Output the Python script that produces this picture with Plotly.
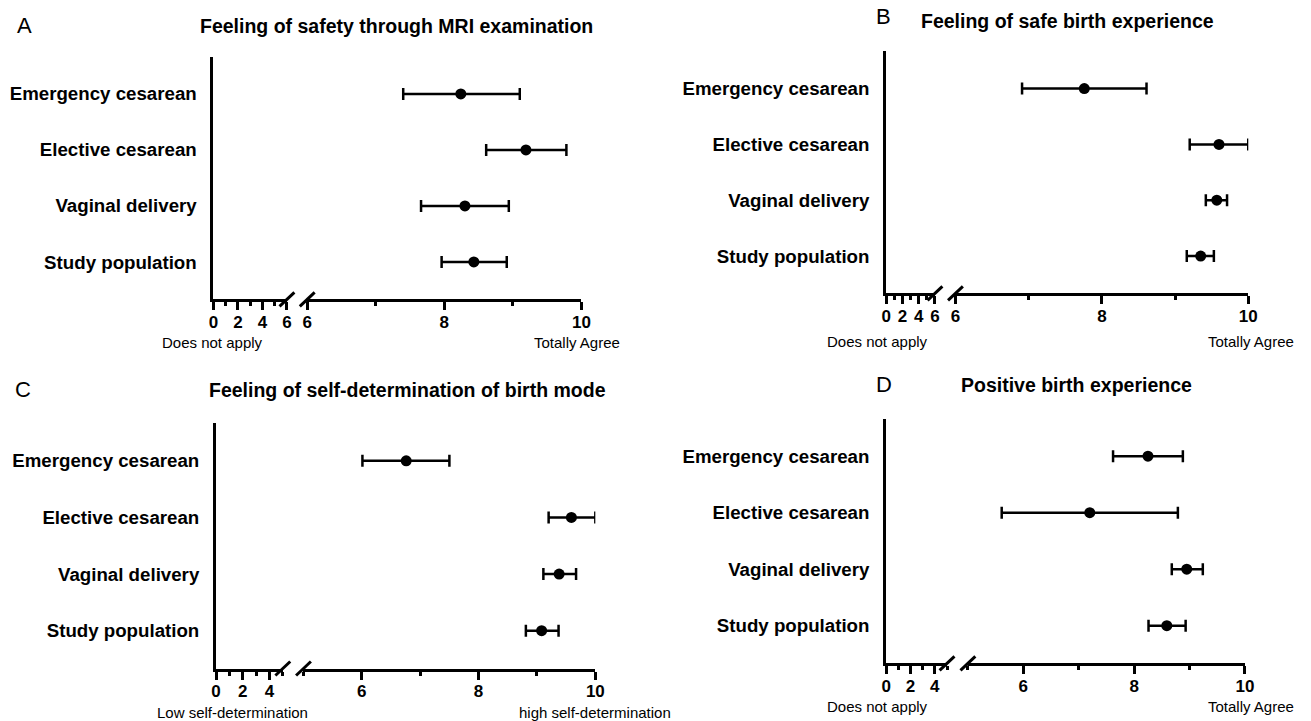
import plotly.graph_objects as go

W, H = 1311, 721

categories = ["Emergency cesarean", "Elective cesarean", "Vaginal delivery", "Study population"]
cat_order = ["Study population", "Vaginal delivery", "Elective cesarean", "Emergency cesarean"]

# Panel A: Feeling of safety through MRI examination
a_mean = [8.24, 9.19, 8.30, 8.43]
a_low = [7.40, 8.61, 7.66, 7.96]
a_high = [9.10, 9.78, 8.94, 8.91]
# Panel B: Feeling of safe birth experience
b_mean = [7.76, 9.60, 9.57, 9.35]
b_low = [6.91, 9.20, 9.42, 9.16]
b_high = [8.61, 10.0, 9.71, 9.53]
# Panel C: Feeling of self-determination of birth mode
c_mean = [6.76, 9.59, 9.38, 9.08]
c_low = [6.01, 9.20, 9.11, 8.81]
c_high = [7.50, 10.0, 9.67, 9.37]
# Panel D: Positive birth experience
d_mean = [8.25, 7.20, 8.95, 8.59]
d_low = [7.62, 5.61, 8.68, 8.26]
d_high = [8.88, 8.79, 9.24, 8.93]

titles = ["Feeling of safety through MRI examination", "Feeling of safe birth experience",
          "Feeling of self-determination of birth mode", "Positive birth experience"]
letters = ["A", "B", "C", "D"]
left_labels = ["Does not apply", "Does not apply", "Low self-determination", "Does not apply"]
right_labels = ["Totally Agree", "Totally Agree", "high self-determination", "Totally Agree"]

# layout geometry (pixels)
panels = [
    dict(yt=56.6, yb=299.3, s1=(210.7, 285.0), r1=(0, 6), s2=(305.5, 582.7), r2=(6, 10),
         title=(396, 26), letter=(20, 26), ll=(210, 342), rl=(578, 342)),
    dict(yt=51.3, yb=293.3, s1=(890.7, 940.0), r1=(0, 6), s2=(960.7, 1256.7), r2=(6, 10),
         title=(1074, 21), letter=(888, 17), ll=(882, 341), rl=(1259, 341)),
    dict(yt=423.0, yb=668.5, s1=(213.3, 280.8), r1=(0, 5), s2=(301.7, 596.7), r2=(5, 10),
         title=(407, 390), letter=(18, 389), ll=(230, 712), rl=(596, 712)),
    dict(yt=418.5, yb=663.3, s1=(890.7, 952.2), r1=(0, 5), s2=(973.3, 1253.3), r2=(5, 10),
         title=(1083, 385), letter=(888, 384), ll=(882, 706), rl=(1259, 706)),
]

data = [(a_mean, a_low, a_high), (b_mean, b_low, b_high), (c_mean, c_low, c_high), (d_mean, d_low, d_high)]

def px(x):
    return x / W

def py(y):
    return 1 - y / H

FONT = "Liberation Sans, Arial, Helvetica, sans-serif"
fig = go.Figure()
layout = dict(width=W, height=H, margin=dict(l=0, r=0, t=0, b=0), paper_bgcolor="white",
              plot_bgcolor="white", showlegend=False, font=dict(family=FONT, color="black"))
shapes = []
annotations = []

for i, (p, (m, lo, hi)) in enumerate(zip(panels, data)):
    xa1 = 2 * i + 1
    xa2 = 2 * i + 2
    ya = i + 1
    xn1 = "xaxis" if xa1 == 1 else f"xaxis{xa1}"
    xn2 = f"xaxis{xa2}"
    yn = "yaxis" if ya == 1 else f"yaxis{ya}"
    xr1 = "x" if xa1 == 1 else f"x{xa1}"
    xr2 = f"x{xa2}"
    yr = "y" if ya == 1 else f"y{ya}"

    common = dict(showgrid=False, zeroline=False, showline=True, linecolor="black", linewidth=3,
                  ticks="outside", ticklen=8, tickwidth=3, tickcolor="black", tickangle=0,
                  tickfont=dict(family=FONT, size=17, color="black", weight="bold"),
                  anchor=yr, fixedrange=True, ticklabelstandoff=-3,
                  minor=dict(dtick=1, ticks="outside", ticklen=4, tickwidth=3, tickcolor="black"))
    layout[xn1] = dict(common, domain=[px(p["s1"][0]), px(p["s1"][1])], range=list(p["r1"]),
                       tick0=0, dtick=2)
    layout[xn2] = dict(common, domain=[px(p["s2"][0]), px(p["s2"][1])], range=list(p["r2"]),
                       tick0=0, dtick=2)
    layout[yn] = dict(domain=[py(p["yb"]), py(p["yt"])], anchor=xr1, showgrid=False, zeroline=False,
                      showline=True, linecolor="black", linewidth=3, ticks="",
                      type="category", categoryorder="array", categoryarray=cat_order,
                      range=[-2 / 3, 3 + 2 / 3], ticklabelstandoff=10, fixedrange=True,
                      tickfont=dict(family=FONT, size=18.7, color="black", weight="bold"))

    # empty helper trace so the left (0..5/6) axis segment gets its own subplot
    fig.add_trace(go.Scatter(x=[None], y=[None], xaxis=xr1, yaxis=yr, mode="markers",
                             hoverinfo="skip"))
    fig.add_trace(go.Scatter(
        x=m, y=categories, xaxis=xr2, yaxis=yr, mode="markers",
        marker=dict(size=11, color="black"),
        error_x=dict(type="data", symmetric=False,
                     array=[h - v for h, v in zip(hi, m)],
                     arrayminus=[v - l for v, l in zip(m, lo)],
                     color="black", thickness=2.5, width=6),
        hoverinfo="skip"))

    # axis break marks
    for xe in (p["s1"][1], p["s2"][0]):
        shapes.append(dict(type="line", xref="paper", yref="paper",
                           x0=px(xe - 7.5), x1=px(xe + 7.5),
                           y0=py(p["yb"] + 7), y1=py(p["yb"] - 7),
                           line=dict(color="black", width=3)))

    annotations.append(dict(text="<b>" + titles[i] + "</b>", xref="paper", yref="paper",
                            x=px(p["title"][0]), y=py(p["title"][1]), xanchor="center",
                            yanchor="middle", showarrow=False,
                            font=dict(family=FONT, size=19.5, color="black")))
    annotations.append(dict(text=letters[i], xref="paper", yref="paper",
                            x=px(p["letter"][0]), y=py(p["letter"][1]), xanchor="center",
                            yanchor="middle", showarrow=False,
                            font=dict(family=FONT, size=22, color="black")))
    annotations.append(dict(text=left_labels[i], xref="paper", yref="paper",
                            x=px(p["ll"][0]), y=py(p["ll"][1]), xanchor="center",
                            yanchor="middle", showarrow=False,
                            font=dict(family=FONT, size=15, color="black")))
    annotations.append(dict(text=right_labels[i], xref="paper", yref="paper",
                            x=px(p["rl"][0]), y=py(p["rl"][1]), xanchor="center",
                            yanchor="middle", showarrow=False,
                            font=dict(family=FONT, size=15, color="black")))

layout["shapes"] = shapes
layout["annotations"] = annotations
fig.update_layout(**layout)
fig.write_html("out.html")
